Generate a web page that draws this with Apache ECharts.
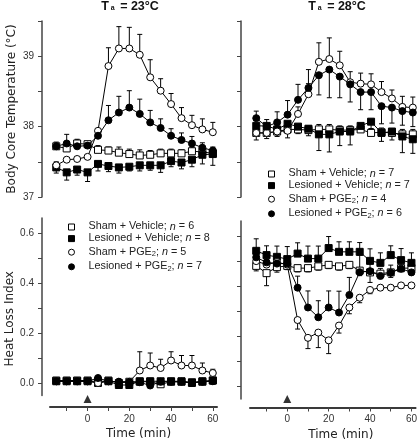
<!DOCTYPE html>
<html>
<head>
<meta charset="utf-8">
<script src="https://cdn.jsdelivr.net/npm/echarts@6/dist/echarts.min.js"></script>
<style>html,body{margin:0;padding:0;background:#fff}#c{width:420px;height:445px}</style>
</head>
<body>
<div id="c"></div>
<script>
// ---- data ----
const time = [-15,-10,-5,0,5,10,15,20,25,30,35,40,45,50,55,60];
const xTicks = [-10,0,10,20,30,40,50,60];
const xLabels = [0,20,40,60];
const hlTicks = [0,0.1,0.2,0.3,0.4,0.5,0.6];
const hlLabels = [0,0.2,0.4,0.6];
const injectionTime = [0];

const namesLeft = ['Sham + Vehicle; n = 6','Lesioned + Vehicle; n = 8','Sham + PGE2; n = 5','Lesioned + PGE2; n = 7'];
const namesRight = ['Sham + Vehicle; n = 7','Lesioned + Vehicle; n = 7','Sham + PGE2; n = 4','Lesioned + PGE2; n = 6'];
const titles = ['23', '28'];

// Body core temperature, Ta = 23 C
const shamVeh23 = [37.72,37.69,37.76,37.75,37.67,37.66,37.63,37.61,37.59,37.60,37.62,37.62,37.62,37.65,37.64,37.62];
const shamVeh23Err = [0.06,0.08,0.06,0.04,0.06,0.05,0.08,0.07,0.08,0.06,0.06,0.06,0.05,0.06,0.07,0.05];
const lesVeh23 = [37.42,37.35,37.39,37.35,37.47,37.44,37.42,37.43,37.45,37.45,37.45,37.51,37.49,37.53,37.60,37.61];
const lesVeh23Err = [-0.08,-0.11,-0.08,-0.13,-0.10,-0.08,-0.08,-0.06,-0.08,-0.07,-0.10,-0.08,-0.09,-0.10,-0.13,-0.16];
const shamPge23 = [37.45,37.53,37.54,37.57,37.94,38.86,39.11,39.11,39.02,38.70,38.51,38.32,38.12,38.02,37.96,37.92];
const shamPge23Err = [0.05,0.03,0.03,0.02,0.02,0.26,0.31,0.30,0.29,0.25,0.17,0.15,0.15,0.14,0.15,0.14];
const lesPge23 = [37.72,37.76,37.72,37.73,37.87,38.09,38.20,38.27,38.18,38.06,37.98,37.87,37.81,37.76,37.70,37.66];
const lesPge23Err = [0.04,0.13,0.05,0.03,0.02,0.21,0.23,0.24,0.21,0.17,0.13,0.10,0.10,0.10,0.07,0.05];

// Body core temperature, Ta = 28 C
const shamVeh28 = [37.91,37.91,37.93,37.96,37.96,37.95,37.96,37.96,37.95,37.95,37.96,37.91,37.92,37.91,37.89,37.89];
const shamVeh28Err = [0.04,0.05,0.05,0.06,0.06,0.06,0.07,0.07,0.06,0.06,0.06,0.06,0.06,0.05,0.07,0.07];
const lesVeh28 = [38.01,38.01,37.96,38.04,38.00,37.97,37.89,37.89,37.93,37.93,38.01,38.07,37.91,37.93,37.86,37.82];
const lesVeh28Err = [-0.20,-0.18,-0.10,-0.20,-0.10,-0.10,-0.23,-0.25,-0.20,-0.19,-0.08,-0.10,-0.12,-0.12,-0.23,-0.20];
const shamPge28 = [37.91,37.91,37.93,37.94,38.18,38.46,38.92,38.96,38.87,38.63,38.61,38.60,38.49,38.40,38.28,38.27];
const shamPge28Err = [0.05,0.05,0.05,0.05,0.10,0.15,0.27,0.30,0.20,0.15,0.15,0.15,0.15,0.12,0.15,0.15];
const lesPge28 = [38.12,38.00,38.06,38.17,38.38,38.55,38.73,38.81,38.71,38.60,38.49,38.49,38.29,38.27,38.22,38.20];
const lesPge28Err = [0.10,0.10,0.15,0.20,0.22,0.26,-0.28,-0.40,-0.30,-0.25,-0.25,-0.25,-0.25,-0.22,-0.20,-0.20];

// Heat loss index, Ta = 23 C
const shamVehHL23 = [0.010,0.010,0.010,0.010,0.000,0.010,0.000,0.005,0.005,0.005,-0.005,0.005,0.005,0.000,0.005,0.010];
const shamVehHL23Err = [0,0,0,0,0,0,0,0,0,0,0,0,0,0,0,0];
const lesVehHL23 = [0.007,0.007,0.007,0.007,0.007,0.007,-0.008,-0.008,0.007,0.007,0.007,0.007,0.007,0.003,0.007,0.010];
const lesVehHL23Err = [0,0,0,0,0,0,0,0,0,0,0,0,0,0,0,0];
const shamPgeHL23 = [0.007,0.007,0.007,0.007,0.000,0.007,0.005,0.005,0.050,0.070,0.060,0.090,0.070,0.070,0.050,0.040];
const shamPgeHL23Err = [0,0,0,0,0,0,0,0,0.075,0.050,0.035,0.035,0.040,0.040,0.030,0.015];
const lesPgeHL23 = [0.007,0.007,0.007,0.007,0.020,0.007,0.005,0.003,0.003,-0.010,0.005,0.005,0.005,0.000,0.005,0.007];
const lesPgeHL23Err = [0,0,0,0,0,0,0,0,0,0,0,0,0,0,0,0];

// Heat loss index, Ta = 28 C
const shamVehHL28 = [0.481,0.452,0.476,0.481,0.472,0.472,0.479,0.485,0.479,0.485,0.462,0.455,0.450,0.455,0.472,0.472];
const shamVehHL28Err = [-0.020,-0.050,-0.020,-0.015,-0.015,-0.015,-0.015,-0.015,-0.015,-0.015,-0.020,-0.040,-0.020,-0.020,-0.015,-0.015];
const lesVehHL28 = [0.541,0.524,0.517,0.508,0.530,0.510,0.510,0.552,0.537,0.537,0.537,0.501,0.493,0.524,0.504,0.493];
const lesVehHL28Err = [0.048,0.037,0.043,0.050,0.043,0.050,0.050,0.046,0.040,0.040,0.037,0.048,0.040,0.037,0.046,0.040];
const shamPgeHL28 = [0.500,0.486,0.496,0.486,0.265,0.194,0.215,0.184,0.243,0.315,0.354,0.385,0.394,0.394,0.403,0.403];
const shamPgeHL28Err = [-0.010,-0.010,-0.010,-0.010,-0.036,-0.043,-0.060,-0.053,-0.030,-0.025,-0.020,-0.015,-0.010,-0.010,-0.010,-0.010];
const lesPgeHL28 = [0.515,0.495,0.490,0.490,0.394,0.315,0.276,0.315,0.295,0.365,0.456,0.460,0.441,0.454,0.470,0.455];
const lesPgeHL28Err = [0.010,0.010,0.010,0.010,0.046,0.066,0.066,0.066,0.085,0.070,0.068,0.030,0.030,0.030,0.030,0.020];

// ---- build chart ----
const panels = [
  {grid:0, names:namesLeft,  vals:[shamVeh23,lesVeh23,shamPge23,lesPge23], errs:[shamVeh23Err,lesVeh23Err,shamPge23Err,lesPge23Err]},
  {grid:1, names:namesRight, vals:[shamVeh28,lesVeh28,shamPge28,lesPge28], errs:[shamVeh28Err,lesVeh28Err,shamPge28Err,lesPge28Err]},
  {grid:2, names:namesLeft,  vals:[shamVehHL23,lesVehHL23,shamPgeHL23,lesPgeHL23], errs:[shamVehHL23Err,lesVehHL23Err,shamPgeHL23Err,lesPgeHL23Err]},
  {grid:3, names:namesRight, vals:[shamVehHL28,lesVehHL28,shamPgeHL28,lesPgeHL28], errs:[shamVehHL28Err,lesVehHL28Err,shamPgeHL28Err,lesPgeHL28Err]}
];
const markers = [
  {symbol:'rect', fill:'#fff'},
  {symbol:'rect', fill:'#000'},
  {symbol:'circle', fill:'#fff'},
  {symbol:'circle', fill:'#000'}
];

const FONT = 'Liberation Sans';
const AX = '#444';

function errRender(params, api) {
  const e = api.value(2);
  if (!e) return null;
  const x = api.value(0), y = api.value(1);
  const p0 = api.coord([x, y]);
  const p1 = api.coord([x, y + e]);
  const st = {stroke:'#000', lineWidth:1};
  return {type:'group', children:[
    {type:'line', shape:{x1:p0[0], y1:p0[1], x2:p1[0], y2:p1[1]}, style:st},
    {type:'line', shape:{x1:p1[0]-2.5, y1:p1[1], x2:p1[0]+2.5, y2:p1[1]}, style:st}
  ]};
}

const series = [];
panels.forEach(p => {
  p.vals.forEach((v, k) => {
    series.push({
      type:'custom', name:'err', xAxisIndex:p.grid, yAxisIndex:p.grid, z:1,
      renderItem: errRender, silent:true,
      data: time.map((t,i) => [t, v[i], p.errs[k][i]])
    });
  });
  p.vals.forEach((v, k) => {
    const m = markers[k];
    series.push({
      type:'line', name:p.names[k], xAxisIndex:p.grid, yAxisIndex:p.grid, z:2 + (k===3?1:0),
      data: time.map((t,i) => [t, v[i]]),
      symbol:m.symbol, symbolSize:7, showSymbol:true,
      lineStyle:{color:'#000', width:1},
      itemStyle:{color:m.fill, borderColor:'#000', borderWidth:1},
      emphasis:{disabled:true}
    });
  });
});
// injection markers
[2,3].forEach((g, j) => {
  series.push({
    type:'scatter', xAxisIndex:g, yAxisIndex:g, symbol:'triangle', symbolSize:[8,8],
    symbolOffset:[0, j===0 ? 3.5 : 0], itemStyle:{color:'#000'}, z:5, silent:true,
    data: injectionTime.map(t => [t, -0.05])
  });
});

const grids = [
  {left:50, top:21, width:167, height:176},
  {left:250, top:21, width:167, height:176},
  {left:50, top:218, width:167, height:177.5},
  {left:250, top:221, width:167, height:178}
];

const xAxis = grids.map((g, i) => {
  const bottom = i >= 2;
  return {
    gridIndex:i, type:'value', min:-18, max:62, show:bottom, position:'bottom',
    offset: i===2 ? 11.5 : 8.5,
    axisLine:{show:true, onZero:false, lineStyle:{color:'#3a3a3a', width:2, type:'solid', opacity:1}},
    axisTick:{show:true, customValues:xTicks, length:4, lineStyle:{color:AX, width:1}},
    axisLabel:{customValues:xLabels, fontSize:10, fontFamily:FONT, color:'#333', margin:7},
    splitLine:{show:false},
    name: bottom ? 'Time (min)' : '', nameLocation:'middle', nameGap:21,
    nameTextStyle:{fontSize:12, fontFamily:'DejaVu Sans', color:'#222', padding:[0,0,0, i===2 ? 10 : 16]}
  };
});

const yAxis = grids.map((g, i) => {
  const top = i < 2, left = i % 2 === 0;
  const base = {
    gridIndex:i, type:'value', offset: left ? 8 : 9, position:'left',
    axisLine:{show:true, onZero:false, lineStyle:{color:AX, width:1.5}},
    splitLine:{show:false},
    nameLocation:'middle', nameGap:24,
    nameTextStyle:{fontSize:12, fontFamily:'DejaVu Sans', color:'#222'}
  };
  if (top) {
    Object.assign(base, {
      min:37, max:39.5, interval:0.5,
      axisTick:{show:true, length:4, lineStyle:{color:AX}},
      axisLabel:{show:left, fontSize:10, fontFamily:FONT, color:'#333', margin:8,
        formatter: v => (Math.abs(v - Math.round(v)) < 1e-6 ? String(Math.round(v)) : '')},
      name: left ? 'Body Core Temperature (\u00B0C)' : ''
    });
  } else {
    Object.assign(base, {
      min:-0.05, max:0.66,
      axisTick:{show:true, customValues:hlTicks, length:4, lineStyle:{color:AX}},
      axisLabel:{show:left, customValues:hlLabels, fontSize:10, fontFamily:FONT, color:'#333', margin:8,
        formatter: v => v.toFixed(1)},
      name: left ? 'Heat Loss Index' : ''
    });
    if (left) base.nameTextStyle.padding = [0, 24, 0, 0];
  }
  return base;
});

function legendFmt(name) {
  let s = name.replace('; n = ', '}{t|; }{i|n}{t| = ');
  return '{f|' + s.replace('PGE2', 'PGE}{s|2') + '}';
}
const LF = 10.8;
const legendRich = {
  f:{fontSize:LF, fontFamily:FONT, color:'#222', lineHeight:12, verticalAlign:'top', padding:[0,0,0,9]},
  t:{fontSize:LF, fontFamily:FONT, color:'#222', lineHeight:12, verticalAlign:'top'},
  i:{fontSize:LF, fontFamily:FONT, color:'#222', fontStyle:'italic', lineHeight:12, verticalAlign:'top'},
  s:{fontSize:7.5, fontFamily:FONT, color:'#222', lineHeight:6, padding:[6,0,0,0], verticalAlign:'bottom'}
};
function legendData(names) {
  return names.map((n, k) => ({
    name:n, icon:markers[k].symbol,
    itemStyle:{color:markers[k].fill, borderColor:'#000', borderWidth:1}
  }));
}
function makeLegend(names, left, top) {
  return {
    data: legendData(names), orient:'vertical', left:left, top:top,
    itemWidth:6, itemHeight:6, itemGap:0.6, selectedMode:false, padding:0,
    formatter: legendFmt,
    textStyle:{fontSize:LF, fontFamily:FONT, color:'#222', rich:legendRich}
  };
}

const titleRich = {
  b:{fontSize:12.5, fontWeight:'bold', fontFamily:FONT, color:'#111', lineHeight:12, verticalAlign:'top'},
  s:{fontSize:7, fontWeight:'bold', fontFamily:FONT, color:'#111', lineHeight:7, padding:[9,2,0,2], verticalAlign:'bottom'}
};

const option = {
  animation:false,
  backgroundColor:'#fff',
  title: titles.map((t, i) => ({
    text:'{b|T}{s|a}{b| = ' + t + '\u00B0C}',
    left: i === 0 ? 130 : 337, top:0, textAlign:'center', padding:0,
    textStyle:{rich:titleRich}
  })),
  grid: grids,
  xAxis: xAxis,
  yAxis: yAxis,
  legend: [makeLegend(namesLeft, 68, 221), makeLegend(namesRight, 268, 168)],
  series: series
};

const chart = echarts.init(document.getElementById('c'), null, {renderer:'canvas'});
chart.setOption(option);
</script>
</body>
</html>
